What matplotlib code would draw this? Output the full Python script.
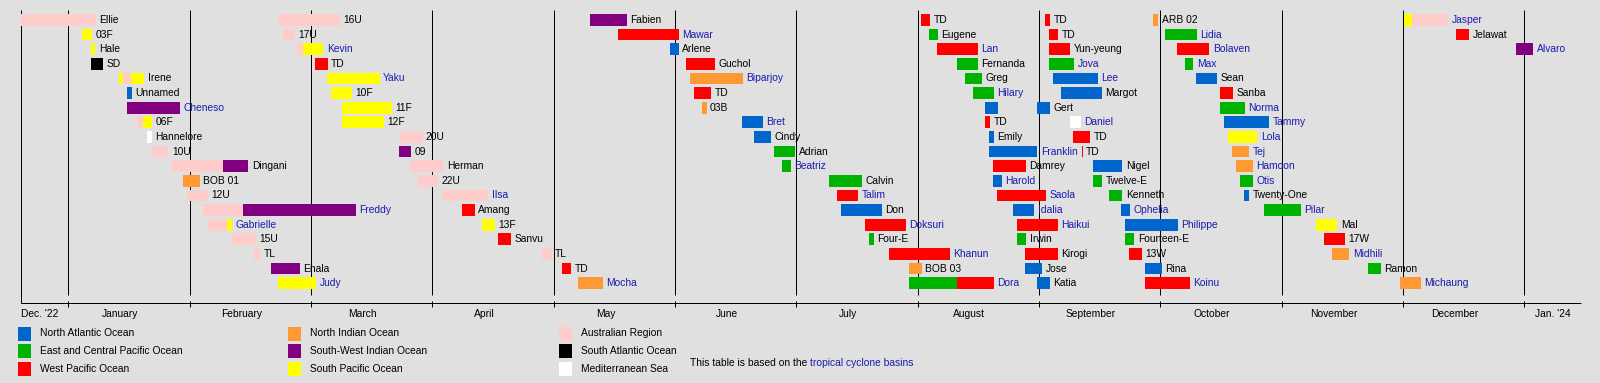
import matplotlib
matplotlib.use("Agg")
import matplotlib.pyplot as plt
from matplotlib.patches import Rectangle

plt.rcParams['font.family'] = ['Liberation Sans', 'DejaVu Sans']

# ---------------- data ----------------
# days counted from 1 Jan 2023 (uniform month scale of the original timeline)
basin_keys = ["NATL", "EPAC", "WPAC", "NIO", "SWIO", "SPAC", "AUS", "SATL", "MED"]
basin_colors = ["#0066CC", "#00B300", "#FF0000", "#FF9933", "#800080",
                "#FFFF00", "#FFCCCC", "#000000", "#FFFFFF"]
basin_names = ["North Atlantic Ocean", "East and Central Pacific Ocean", "West Pacific Ocean",
               "North Indian Ocean", "South-West Indian Ocean", "South Pacific Ocean",
               "Australian Region", "South Atlantic Ocean", "Mediterranean Sea"]

month_labels = ["Dec. '22", "January", "February", "March", "April", "May", "June",
                "July", "August", "September", "October", "November", "December", "Jan. '24"]
period_start = -11.9
period_end = 379.2

storm_names = [
    "Ellie", "03F", "Hale", "SD", "Irene", "Unnamed", "Cheneso", "06F", "Hannelore", "10U",
    "Dingani", "BOB 01", "12U", "Freddy", "Gabrielle", "15U", "TL", "Enala", "Judy",
    "16U", "17U", "Kevin", "TD", "Yaku", "10F", "11F", "12F", "20U", "09",
    "Herman", "22U", "Ilsa", "Amang", "13F", "Sanvu", "TL", "TD", "Mocha",
    "Fabien", "Mawar", "Arlene", "Guchol", "Biparjoy", "TD", "03B", "Bret", "Cindy", "Adrian",
    "Beatriz", "Calvin", "Talim", "Don", "Doksuri", "Four-E", "Khanun", "BOB 03", "Dora",
    "TD", "Eugene", "Lan", "Fernanda", "Greg", "Hilary", "Gert", "TD", "Emily", "Franklin",
    "Damrey", "Harold", "Saola", "Idalia", "Haikui", "Irwin", "Kirogi", "Jose", "Katia",
    "TD", "TD", "Yun-yeung", "Jova", "Lee", "Margot", "Daniel", "TD", "TD",
    "Nigel", "Twelve-E", "Kenneth", "Ophelia", "Philippe", "Fourteen-E", "13W", "Rina", "Koinu",
    "ARB 02", "Lidia", "Bolaven", "Max", "Sean", "Sanba", "Norma", "Tammy", "Lola", "Tej",
    "Hamoon", "Otis", "Twenty-One", "Pilar", "Mal", "17W", "Midhili", "Ramon", "Michaung",
    "Jasper", "Jelawat", "Alvaro",
]
storm_rows = [
    0, 1, 2, 3, 4, 5, 6, 7, 8, 9, 10, 11, 12, 13, 14, 15, 16, 17, 18,
    0, 1, 2, 3, 4, 5, 6, 7, 8, 9, 10, 11, 12, 13, 14, 15, 16, 17, 18,
    0, 1, 2, 3, 4, 5, 6, 7, 8, 9, 10, 11, 12, 13, 14, 15, 16, 17, 18,
    0, 1, 2, 3, 4, 5, 6, 7, 8, 9, 10, 11, 12, 13, 14, 15, 16, 17, 18,
    0, 1, 2, 3, 4, 5, 7, 8, 9, 10, 11, 12, 13, 14, 15, 16, 17, 18,
    0, 1, 2, 3, 4, 5, 6, 7, 8, 9, 10, 11, 12, 13, 14, 15, 16, 17, 18,
    0, 1, 2,
]
linked_names = {"Cheneso", "Freddy", "Gabrielle", "Judy", "Kevin", "Yaku", "Ilsa", "Mocha",
                "Mawar", "Biparjoy", "Bret", "Beatriz", "Talim", "Doksuri", "Khanun", "Dora",
                "Lan", "Hilary", "Franklin", "Harold", "Saola", "Idalia", "Haikui",
                "Jova", "Lee", "Daniel", "Ophelia", "Philippe", "Koinu",
                "Lidia", "Bolaven", "Max", "Norma", "Tammy", "Lola", "Tej", "Hamoon", "Otis",
                "Pilar", "Midhili", "Michaung", "Jasper", "Alvaro"}
# each storm: list of (basin, start day, end day)
storm_segments = [
    [("AUS", -11.9, 6.9)], [("SPAC", 3.5, 5.9)], [("SPAC", 5.6, 6.8)], [("SATL", 5.8, 8.8)],
    [("SPAC", 12.7, 13.7), ("AUS", 13.7, 15.6), ("SPAC", 15.6, 19.0)],
    [("NATL", 14.6, 16.0)], [("SWIO", 14.7, 28.0)], [("AUS", 17.1, 18.7), ("SPAC", 18.7, 21.1)],
    [("MED", 19.8, 21.0)], [("AUS", 20.9, 25.1)], [("AUS", 25.9, 38.7), ("SWIO", 38.7, 45.1)],
    [("NIO", 28.8, 32.9)], [("AUS", 29.8, 35.0)], [("AUS", 33.8, 43.7), ("SWIO", 43.7, 72.1)],
    [("AUS", 34.9, 39.7), ("SPAC", 39.7, 41.0)], [("AUS", 41.0, 47.1)], [("AUS", 46.6, 48.1)],
    [("SWIO", 50.7, 58.1)], [("SPAC", 52.6, 62.1)],
    # column 2
    [("AUS", 52.9, 68.1)], [("AUS", 53.9, 56.8)], [("AUS", 57.3, 58.8), ("SPAC", 58.8, 63.9)],
    [("WPAC", 61.8, 65.0)], [("SPAC", 64.8, 78.1)], [("SPAC", 65.8, 71.1)], [("SPAC", 68.7, 81.2)],
    [("SPAC", 68.7, 79.1)], [("AUS", 83.2, 88.8)], [("SWIO", 82.9, 85.9)], [("AUS", 85.7, 94.0)],
    [("AUS", 87.7, 92.8)], [("AUS", 93.6, 105.3)], [("WPAC", 98.7, 101.9)], [("SPAC", 103.6, 107.0)],
    [("WPAC", 107.7, 110.9)], [("AUS", 118.7, 121.2)], [("WPAC", 123.8, 126.0)], [("NIO", 127.8, 134.0)],
    # column 3
    [("SWIO", 130.8, 140.0)], [("WPAC", 137.8, 153.0)], [("NATL", 150.8, 153.0)], [("WPAC", 154.9, 162.1)],
    [("NIO", 155.9, 169.1)], [("WPAC", 156.9, 161.1)], [("NIO", 158.9, 160.0)], [("NATL", 168.9, 174.1)],
    [("NATL", 171.9, 176.1)], [("EPAC", 176.9, 182.2)], [("EPAC", 178.9, 181.2)], [("EPAC", 190.7, 199.0)],
    [("WPAC", 192.7, 198.0)], [("NATL", 193.7, 204.0)], [("WPAC", 199.7, 210.0)], [("EPAC", 200.7, 202.0)],
    [("WPAC", 205.7, 221.0)], [("NIO", 210.8, 214.0)], [("EPAC", 210.8, 222.8), ("WPAC", 222.8, 232.1)],
    # column 4
    [("WPAC", 213.8, 216.0)], [("EPAC", 215.8, 218.0)], [("WPAC", 217.8, 228.0)], [("EPAC", 222.8, 228.0)],
    [("EPAC", 224.8, 229.1)], [("EPAC", 226.8, 232.0)], [("NATL", 229.8, 233.1), ("NATL", 242.9, 246.1)],
    [("WPAC", 229.8, 231.1)], [("NATL", 230.8, 232.0)], [("NATL", 230.8, 242.9)], [("WPAC", 231.8, 240.1)],
    [("NATL", 231.8, 234.1)], [("WPAC", 232.8, 245.1)], [("NATL", 236.8, 242.1)], [("WPAC", 237.8, 248.1)],
    [("EPAC", 237.8, 240.1)], [("WPAC", 239.8, 248.1)], [("NATL", 239.8, 244.1)], [("NATL", 242.8, 246.1)],
    # column 5
    [("WPAC", 244.8, 246.1)], [("WPAC", 245.9, 248.1)], [("WPAC", 245.9, 251.1)], [("EPAC", 245.9, 252.1)],
    [("NATL", 246.9, 258.1)], [("NATL", 248.9, 259.1)], [("MED", 251.0, 253.9)], [("WPAC", 251.9, 256.1)],
    [("WPAC", 254.0, 254.3)], [("NATL", 256.8, 264.2)], [("EPAC", 256.8, 259.1)], [("EPAC", 260.8, 264.2)],
    [("NATL", 263.8, 266.2)], [("NATL", 264.8, 278.2)], [("EPAC", 264.8, 267.2)], [("WPAC", 265.8, 269.2)],
    [("NATL", 269.9, 274.1)], [("WPAC", 269.9, 281.2)],
    # column 6
    [("NIO", 271.8, 273.2)], [("EPAC", 274.9, 282.9)], [("WPAC", 277.9, 286.0)], [("EPAC", 280.0, 282.0)],
    [("NATL", 282.7, 288.0)], [("WPAC", 288.7, 292.0)], [("EPAC", 288.7, 295.0)], [("NATL", 289.7, 301.0)],
    [("SPAC", 290.7, 298.1)], [("NIO", 291.7, 296.0)], [("NIO", 292.7, 297.0)], [("EPAC", 293.7, 297.0)],
    [("NATL", 294.7, 296.0)], [("EPAC", 299.8, 309.0)], [("SPAC", 312.8, 318.1)], [("WPAC", 314.8, 320.1)],
    [("NIO", 316.8, 321.1)], [("EPAC", 325.8, 329.0)], [("NIO", 333.9, 339.1)],
    # column 7
    [("SPAC", 334.8, 336.9), ("AUS", 336.9, 345.9)], [("WPAC", 347.9, 351.2)], [("SWIO", 362.9, 367.2)],
]

# ---------------- layout ----------------
W, H = 1600, 383
PX_PER_DAY = 3.989
X0_PX = 68.3            # pixel of 1 Jan 2023
ROW0_PX, ROW_PX = 20.0, 14.62
MONTH = 365.0 / 12
bg = "#E0E0E0"
link_color = "#1A1AB0"
FS = 7.4

def px2day(px):
    return (px - X0_PX) / PX_PER_DAY

def py2row(py):
    return (py - ROW0_PX) / ROW_PX

fig = plt.figure(figsize=(W / 100, H / 100), dpi=100, facecolor=bg)
ax = fig.add_axes([0, 0, 1, 1])
ax.set_facecolor(bg)
ax.set_xlim(px2day(0), px2day(W))
ax.set_ylim(py2row(H), py2row(0))
ax.axis("off")

lw = 0.72
# vertical grid lines at month boundaries
for m in range(13):
    ax.plot([m * MONTH, m * MONTH], [py2row(10), py2row(295)], color="black", lw=lw,
            solid_capstyle="butt", zorder=1)
    ax.plot([m * MONTH, m * MONTH], [py2row(300.5), py2row(306.5)], color="black", lw=lw,
            solid_capstyle="butt", zorder=1)
ax.plot([period_start, period_start], [py2row(10), py2row(303.3)], color="black", lw=lw,
        solid_capstyle="butt", zorder=1)
ax.plot([period_start, period_end], [py2row(303.3), py2row(303.3)], color="black", lw=lw,
        solid_capstyle="butt", zorder=1)

# month labels
ylab = py2row(314.3)
ax.text(period_start, ylab, month_labels[0], ha="left", va="center", fontsize=FS, color="black")
for m in range(12):
    ax.text(m * MONTH + 13.0, ylab, month_labels[m + 1], ha="center", va="center",
            fontsize=FS, color="black")
ax.text((12 * MONTH + period_end) / 2, ylab, month_labels[-1], ha="center", va="center",
        fontsize=FS, color="black")

# bars and labels
cmap = dict(zip(basin_keys, basin_colors))
for name, row, segs in zip(storm_names, storm_rows, storm_segments):
    for basin, s, e in segs:
        ax.barh(row, e - s, left=s, height=0.8, color=cmap[basin], linewidth=0, zorder=2)
    end = max(e for _, _, e in segs)
    ax.annotate(name, xy=(end, row), xytext=(2.5, 0), textcoords="offset points",
                ha="left", va="center", fontsize=FS,
                color=link_color if name in linked_names else "black", zorder=3)

# legend
col_x = [18, 288, 559]
row_y = [333.5, 351.0, 368.5]
sq_w, sq_h = 12.5, 14
for i, (c, lab) in enumerate(zip(basin_colors, basin_names)):
    cx = col_x[i // 3]
    cy = row_y[i % 3]
    fig.add_artist(Rectangle((cx / W, 1 - (cy + sq_h / 2) / H), sq_w / W, sq_h / H,
                             transform=fig.transFigure, facecolor=c, edgecolor="none"))
    fig.text((cx + 22) / W, 1 - cy / H, lab, ha="left", va="center", fontsize=FS, color="black")

note_y = 1 - 362.5 / H
t1 = fig.text(690 / W, note_y, "This table is based on the ", ha="left", va="center",
              fontsize=FS, color="black")
fig.canvas.draw()
bb = t1.get_window_extent(renderer=fig.canvas.get_renderer())
fig.text(bb.x1 / W, note_y, "tropical cyclone basins", ha="left", va="center",
         fontsize=FS, color=link_color)

fig.savefig("out.png", dpi=100, facecolor=bg)
